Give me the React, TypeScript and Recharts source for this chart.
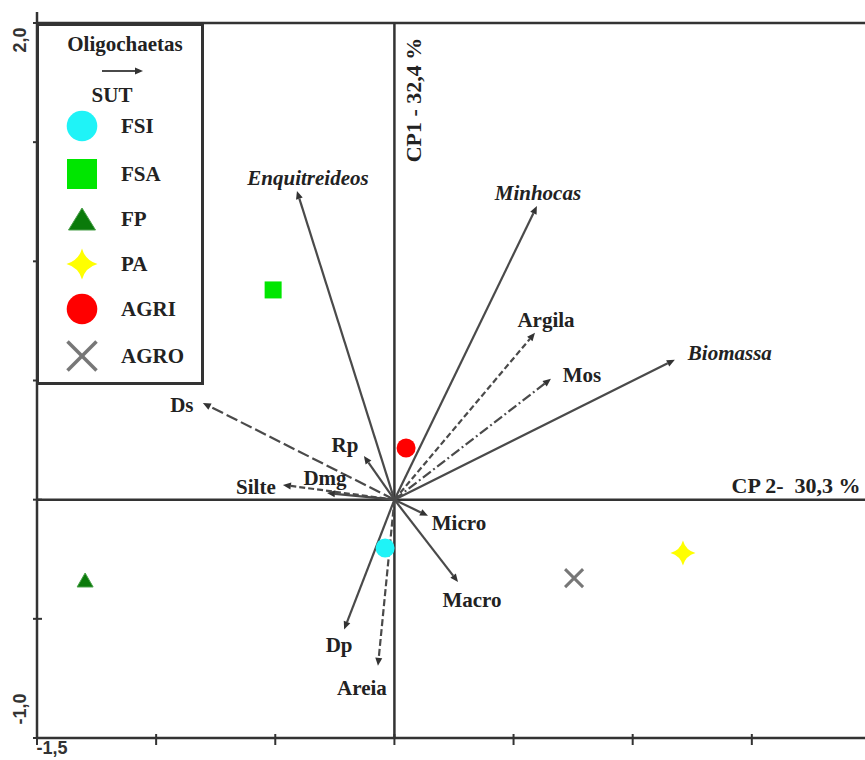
import React from 'react';
import { ScatterChart, Scatter, XAxis, YAxis, ReferenceLine, Legend } from 'recharts';

// ---------------- data ----------------
const xTicks = [-1.5, -1.0, -0.5, 0, 0.5, 1.0, 1.5];
const yTicks = [-1.0, -0.5, 0, 0.5, 1.0, 1.5, 2.0];
const xTickText = ['-1,5', '', '', '', '', '', ''];
const yTickText = ['-1,0', '', '', '', '', '', '2,0'];

const sutNames = ['FSI', 'FSA', 'FP', 'PA', 'AGRI', 'AGRO'];
const sutCP2 = [-0.039, -0.509, -1.298, 1.211, 0.049, 0.754];
const sutCP1 = [-0.203, 0.88, -0.337, -0.224, 0.217, -0.329];

const varNames = ['Enquitreideos', 'Minhocas', 'Argila', 'Mos', 'Biomassa', 'Ds', 'Rp', 'Dmg', 'Silte', 'Micro', 'Macro', 'Dp', 'Areia'];
const varCP2 = [-0.409, 0.598, 0.59, 0.657, 1.177, -0.804, -0.128, -0.283, -0.468, 0.141, 0.267, -0.211, -0.069];
const varCP1 = [1.295, 1.232, 0.7, 0.507, 0.587, 0.406, 0.183, 0.028, 0.062, -0.068, -0.345, -0.545, -0.697];

const axisTitleX = 'CP 2-  30,3 %';
const axisTitleY = 'CP1 - 32,4 %';
const legendTitle = 'Oligochaetas';
const legendSubtitle = 'SUT';

// ---------------- styles ----------------
const SERIF = "'Liberation Serif', 'DejaVu Serif', serif";
const SANS = "'Liberation Sans', 'DejaVu Sans', sans-serif";
const INK = '#222';
const AXIS = '#333';
const ARROW = '#4a4a4a';
const FS = 21;

const varStyle: Record<string, { dash?: string; italic?: boolean; dx: number; dy: number }> = {
  Enquitreideos: { italic: true, dx: 11, dy: -13 },
  Minhocas: { italic: true, dx: 1, dy: -13 },
  Argila: { dash: '6 3', dx: 11, dy: -13 },
  Mos: { dash: '10 3 2 3', dx: 31, dy: -4 },
  Biomassa: { italic: true, dx: 55, dy: -7 },
  Ds: { dash: '12 4', dx: -21, dy: 2 },
  Rp: { dx: -19, dy: -11 },
  Dmg: { dx: -2, dy: -15 },
  Silte: { dash: '6 3', dx: -27, dy: 2 },
  Micro: { dx: 31, dy: 7 },
  Macro: { dx: 14, dy: 18 },
  Dp: { dx: -5, dy: 15 },
  Areia: { dash: '7 3', dx: -16, dy: 22 },
};

type Sz = { r: number; sq: number; tw: number; th: number; star: number; xh: number; xw: number };
const plotSize: Sz = { r: 9.5, sq: 17, tw: 16, th: 14, star: 12.5, xh: 9, xw: 3 };
const legendSize: Sz = { r: 15.3, sq: 30, tw: 27, th: 22, star: 15.5, xh: 14.5, xw: 3.5 };

function SutMarker({ name, cx, cy, s }: { name: string; cx: number; cy: number; s: Sz }) {
  if (name === 'FSI') return <circle cx={cx} cy={cy} r={s.r} fill="#1ff3f7" />;
  if (name === 'AGRI') return <circle cx={cx} cy={cy} r={s.r} fill="#ff0000" />;
  if (name === 'FSA')
    return <rect x={cx - s.sq / 2} y={cy - s.sq / 2} width={s.sq} height={s.sq} fill="#00e600" />;
  if (name === 'FP')
    return (
      <polygon
        points={`${cx},${cy - s.th / 2} ${cx + s.tw / 2},${cy + s.th / 2} ${cx - s.tw / 2},${cy + s.th / 2}`}
        fill="#0a7a0a"
        stroke="#4aa04a"
        strokeWidth={1}
      />
    );
  if (name === 'PA') {
    const R = s.star;
    const c = R * 0.22;
    const d = `M ${cx} ${cy - R} Q ${cx + c} ${cy - c} ${cx + R} ${cy} Q ${cx + c} ${cy + c} ${cx} ${cy + R} Q ${cx - c} ${cy + c} ${cx - R} ${cy} Q ${cx - c} ${cy - c} ${cx} ${cy - R} Z`;
    return <path d={d} fill="#ffff00" />;
  }
  // AGRO
  return (
    <g stroke="#777" strokeWidth={s.xw} strokeLinecap="butt">
      <line x1={cx - s.xh} y1={cy - s.xh} x2={cx + s.xh} y2={cy + s.xh} />
      <line x1={cx - s.xh} y1={cy + s.xh} x2={cx + s.xh} y2={cy - s.xh} />
    </g>
  );
}

const XTick = (props: any) => {
  const { x, y, payload } = props;
  const label = xTickText[xTicks.indexOf(payload.value)];
  return (
    <g>
      <line x1={x} x2={x} y1={y - 4} y2={y + 7} stroke={AXIS} strokeWidth={2} />
      {label ? (
        <text x={x + 15} y={y + 10} textAnchor="middle" dominantBaseline="central" fontFamily={SANS} fontSize={18} fontWeight="bold" fill={AXIS}>
          {label}
        </text>
      ) : null}
    </g>
  );
};

const YTick = (props: any) => {
  const { x, y, payload } = props;
  const v = payload.value;
  const label = yTickText[yTicks.indexOf(v)];
  return (
    <g>
      <line x1={x - 4} x2={x + 5} y1={y} y2={y} stroke={AXIS} strokeWidth={2} />
      {v === 2 ? <line x1={x} x2={x} y1={y} y2={y - 11} stroke={AXIS} strokeWidth={2.5} /> : null}
      {label ? (
        <text
          transform={`translate(${x - 17},${y + (v > 0 ? 17 : -29)}) rotate(-90)`}
          textAnchor="middle"
          dominantBaseline="central"
          fontFamily={SANS}
          fontSize={18}
          fontWeight="bold"
          fill={AXIS}
        >
          {label}
        </text>
      ) : null}
    </g>
  );
};

const makeArrow = (name: string) => (p: any) => {
  const { x1, y1, x2, y2 } = p;
  const st = varStyle[name];
  const ang = Math.atan2(y2 - y1, x2 - x1);
  const L = 8;
  const Wd = 3.5;
  const bx = x2 - L * Math.cos(ang);
  const by = y2 - L * Math.sin(ang);
  const px = -Math.sin(ang) * Wd;
  const py = Math.cos(ang) * Wd;
  return (
    <g>
      <line x1={x1} y1={y1} x2={bx} y2={by} stroke={ARROW} strokeWidth={2.2} strokeDasharray={st.dash} />
      <polygon points={`${x2},${y2} ${bx + px},${by + py} ${bx - px},${by - py}`} fill="#333" />
      <text
        x={x2 + st.dx}
        y={y2 + st.dy}
        textAnchor="middle"
        dominantBaseline="central"
        fontFamily={SERIF}
        fontSize={FS}
        fontWeight="bold"
        fontStyle={st.italic ? 'italic' : 'normal'}
        fill={INK}
      >
        {name}
      </text>
    </g>
  );
};

const HAxisShape = (p: any) => {
  const { x1, y1, x2, y2 } = p;
  const right = Math.max(x1, x2);
  return (
    <g>
      <line x1={x1} y1={y1} x2={x2} y2={y2} stroke={AXIS} strokeWidth={2.5} />
      <text
        x={right - 69}
        y={y1 - 14}
        textAnchor="middle"
        dominantBaseline="central"
        fontFamily={SERIF}
        fontSize={22}
        fontWeight="bold"
        fill={INK}
        style={{ whiteSpace: 'pre' }}
      >
        {axisTitleX}
      </text>
    </g>
  );
};

const VAxisShape = (p: any) => {
  const { x1, y1, x2, y2 } = p;
  const top = Math.min(y1, y2);
  return (
    <g>
      <line x1={x1} y1={y1} x2={x2} y2={y2} stroke={AXIS} strokeWidth={2.5} />
      <text
        transform={`translate(${x1 + 19},${top + 77}) rotate(-90)`}
        textAnchor="middle"
        dominantBaseline="central"
        fontFamily={SERIF}
        fontSize={22}
        fontWeight="bold"
        fill={INK}
        style={{ whiteSpace: 'pre' }}
      >
        {axisTitleY}
      </text>
    </g>
  );
};

const TopBorder = (p: any) => (
  <line x1={p.x1} y1={p.y1} x2={p.x2} y2={p.y2} stroke={AXIS} strokeWidth={2.5} />
);

const legendRowY = [103, 151, 196, 241, 286, 333];

const LegendBox = () => (
  <svg width={168} height={362} style={{ display: 'block' }}>
    <rect x={1.5} y={1.5} width={165} height={359} fill="#fff" stroke={AXIS} strokeWidth={3} />
    <text x={89} y={21} textAnchor="middle" dominantBaseline="central" fontFamily={SERIF} fontSize={FS} fontWeight="bold" fill={INK}>
      {legendTitle}
    </text>
    <line x1={66} y1={48} x2={100} y2={48} stroke={ARROW} strokeWidth={2} />
    <polygon points="107,48 99,44.5 99,51.5" fill="#333" />
    <text x={76} y={72} textAnchor="middle" dominantBaseline="central" fontFamily={SERIF} fontSize={FS} fontWeight="bold" fill={INK}>
      {legendSubtitle}
    </text>
    {sutNames.map((n, i) => (
      <g key={n}>
        <SutMarker name={n} cx={46} cy={legendRowY[i]} s={legendSize} />
        <text x={85} y={legendRowY[i]} dominantBaseline="central" fontFamily={SERIF} fontSize={FS} fontWeight="bold" fill={INK}>
          {n}
        </text>
      </g>
    ))}
  </svg>
);

export default function App() {
  return (
    <div style={{ position: 'absolute', left: 0, top: 0, background: '#fff' }}>
      <ScatterChart width={865} height={760} margin={{ top: 23, right: 0, bottom: 0, left: 0 }}>
        <XAxis
          type="number"
          dataKey="x"
          domain={[-1.5, 1.975]}
          allowDataOverflow
          ticks={xTicks}
          interval={0}
          height={22}
          axisLine={{ stroke: AXIS, strokeWidth: 2.5 }}
          tickLine={false}
          tickSize={0}
          tickMargin={0}
          tick={<XTick />}
        />
        <YAxis
          type="number"
          dataKey="y"
          domain={[-1, 2]}
          allowDataOverflow
          ticks={yTicks}
          interval={0}
          width={37}
          axisLine={{ stroke: AXIS, strokeWidth: 2.5 }}
          tickLine={false}
          tickSize={0}
          tickMargin={0}
          tick={<YTick />}
        />
        <ReferenceLine y={2} shape={TopBorder} ifOverflow="visible" />
        <ReferenceLine y={0} shape={HAxisShape} ifOverflow="visible" />
        <ReferenceLine x={0} shape={VAxisShape} ifOverflow="visible" />
        {varNames.map((n, i) => (
          <ReferenceLine
            key={n}
            segment={[
              { x: 0, y: 0 },
              { x: varCP2[i], y: varCP1[i] },
            ]}
            shape={makeArrow(n)}
            ifOverflow="visible"
          />
        ))}
        {sutNames.map((n, i) => (
          <Scatter
            key={n}
            name={n}
            data={[{ x: sutCP2[i], y: sutCP1[i] }]}
            isAnimationActive={false}
            shape={(p: any) => <SutMarker name={n} cx={p.cx} cy={p.cy} s={plotSize} />}
          />
        ))}
        <Legend
          layout="vertical"
          align="center"
          verticalAlign="middle"
          content={() => <LegendBox />}
          wrapperStyle={{ left: 36, top: 23, width: 168, height: 362 }}
        />
      </ScatterChart>
    </div>
  );
}
